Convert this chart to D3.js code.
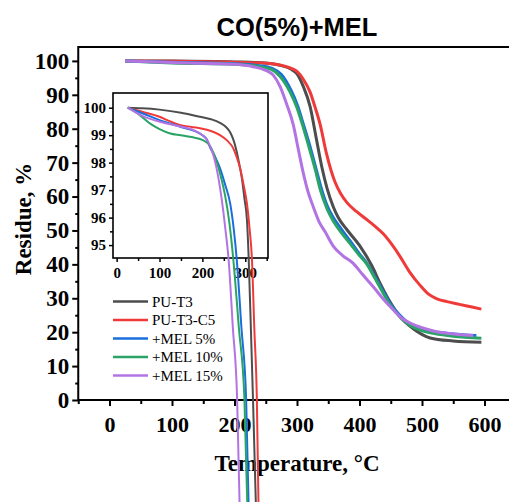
<!DOCTYPE html>
<html>
<head>
<meta charset="utf-8">
<script src="https://cdn.jsdelivr.net/npm/d3@7"></script>
<style>
  html, body { margin: 0; padding: 0; background: #fff; overflow: hidden; }
</style>
</head>
<body>
<div id="chart"></div>
<script>
// --------------------------------------------------------
// DATA
// --------------------------------------------------------
const seriesNames = ["PU-T3", "PU-T3-C5", "+MEL 5%", "+MEL 10%", "+MEL 15%"];
const seriesColors = ["#4d4d4d", "#f03a3a", "#1a6fdc", "#2aa366", "#b374e3"];

// main TGA curves: temperature (°C) and residue (%)
const mainT3 = [[25,100],[100,99.95],[200,99.7],[250,99.4],[275,98.6],[290,97.6],[300,96.2],[310,92.5],[321,86.5],[331,77],[340,68.5],[348,62.5],[358,57],[366,53.8],[380,50.2],[400,45.6],[420,39.5],[433,34.4],[450,28.6],[465,24.5],[486,21],[513,18.3],[550,17.4],[595,17]];
const mainC5 = [[25,100],[100,99.9],[200,99.6],[250,99.3],[273,98.8],[290,97.9],[300,96.9],[310,94.6],[321,90.8],[329,86.3],[337,81.3],[347,72.8],[355,67.4],[361,64.2],[370,60.8],[380,58.2],[395,55.6],[411,53.3],[425,51.2],[438,49],[452,45.8],[465,42.3],[480,37.8],[497,33.8],[510,31.3],[523,29.9],[540,29],[560,28.2],[580,27.4],[595,26.8]];
const mainMel5 = [[25,100],[100,99.6],[200,99.2],[240,98.6],[260,97.8],[275,96],[290,91.5],[301,86.8],[311,80.8],[322,74],[331,67.8],[338,63],[348,57.4],[358,53.8],[370,50.6],[385,46.9],[400,43.1],[411,40.5],[425,36.2],[438,32],[450,28.2],[465,24.9],[480,22.5],[497,21.1],[520,20.1],[550,19.5],[587,19]];
const mainMel10 = [[25,100],[100,99.4],[200,99],[240,98.3],[260,97.4],[273,95.4],[289,90.8],[300,86.2],[310,80.4],[321,73.4],[330,67.4],[337,62.2],[348,56.4],[358,52.8],[370,49.6],[385,46.1],[400,42.6],[411,40.3],[425,35.8],[438,31.5],[450,27.8],[465,24.5],[480,22.1],[497,20.6],[520,19.6],[550,18.8],[595,18.2]];
const mainMel15 = [[25,100],[100,99.5],[200,99],[230,98.3],[250,97.2],[262,95.8],[273,92.4],[283,87.5],[294,81.2],[302,74],[310,67],[318,61.2],[326,57],[335,52.7],[345,49.6],[358,45.4],[373,42.6],[390,40.3],[405,37],[422,33.4],[438,29.8],[454,26.6],[468,24.1],[481,22.7],[500,21.3],[520,20.3],[540,19.7],[582,19]];

// inset (zoom on the start of the decomposition)
const insetT3 = [[26,100],[60,99.98],[100,99.93],[150,99.82],[194,99.67],[220,99.58],[241,99.45],[255,99.3],[265,99.1],[273,98.8],[280,98.4],[286,97.95],[292,97.44],[298,96.7],[304,95.9],[308,94.5],[313,92],[318,89.4],[325,85.4]];
const insetC5 = [[26,100],[60,99.85],[100,99.67],[125,99.5],[147,99.37],[175,99.3],[194,99.25],[220,99.15],[241,99],[258,98.8],[272,98.52],[280,98.2],[288,97.8],[296,97.2],[304,96.5],[310,95.6],[315.5,94.5],[321,92],[327,89.4],[331,85.4]];
const insetMel5 = [[26,100],[60,99.8],[100,99.55],[150,99.3],[200,99],[210,98.85],[218,98.55],[230,98.2],[241,97.8],[253,97.2],[265,96.5],[273,95.6],[280,94.5],[291,92],[302,89.4],[308,85.4]];
const insetMel10 = [[26,100],[54,99.73],[80,99.4],[100,99.22],[125,99.06],[150,99],[175,98.93],[200,98.83],[218,98.6],[226,98.35],[233,98.04],[243,97.5],[253,96.8],[263,95.8],[272,94.5],[285,92],[298,89.4],[305,85.4]];
const insetMel15 = [[26,100],[60,99.7],[100,99.49],[150,99.31],[180,99.18],[200,99],[210,98.85],[218,98.6],[226,98.25],[233,97.8],[241,97.1],[249,96.2],[255,95.4],[261,94.5],[271,92],[281,89.4],[287,85.4]];

const mainSeries = [mainT3, mainC5, mainMel5, mainMel10, mainMel15];
const insetSeries = [insetT3, insetC5, insetMel5, insetMel10, insetMel15];

const xTicks = [0, 100, 200, 300, 400, 500, 600];
const yTicks = [0, 10, 20, 30, 40, 50, 60, 70, 80, 90, 100];
const insetXTicks = [0, 100, 200, 300];
const insetYTicks = [95, 96, 97, 98, 99, 100];

// --------------------------------------------------------
// LAYOUT
// --------------------------------------------------------
const width = 509;
const height = 502;
const serif = "'Liberation Serif', 'Times New Roman', serif";
const sans = "'Liberation Sans', Arial, sans-serif";

const svg = d3
  .select("#chart")
  .append("svg")
  .attr("width", width)
  .attr("height", height)
  .attr("viewBox", [0, 0, width, height]);

const x = d3.scaleLinear().domain([-50, 650]).range([78.25, 515.75]);
const y = d3.scaleLinear().domain([0, 104.1]).range([400, 47]);

const line = d3
  .line()
  .x((d) => x(d[0]))
  .y((d) => y(d[1]))
  .curve(d3.curveMonotoneX);

// title
svg
  .append("text")
  .attr("x", 297)
  .attr("y", 36)
  .attr("text-anchor", "middle")
  .attr("font-family", sans)
  .attr("font-weight", "bold")
  .attr("font-size", 25.5)
  .text("CO(5%)+MEL");

// main curves
svg
  .append("g")
  .attr("fill", "none")
  .attr("stroke-width", 3)
  .attr("stroke-linejoin", "round")
  .selectAll("path")
  .data(mainSeries)
  .join("path")
  .attr("stroke", (d, i) => seriesColors[i])
  .attr("d", line);

// frame
svg
  .append("rect")
  .attr("x", x(-50))
  .attr("y", y(104.1))
  .attr("width", x(650) - x(-50))
  .attr("height", y(0) - y(104.1))
  .attr("fill", "none")
  .attr("stroke", "#000")
  .attr("stroke-width", 2);

// axes
function styleAxis(g, size) {
  g.select(".domain").remove();
  g.selectAll("line").attr("stroke", "#000").attr("stroke-width", 2);
  g.selectAll("text")
    .attr("font-family", serif)
    .attr("font-weight", "bold")
    .attr("font-size", size)
    .attr("fill", "#000");
}

svg
  .append("g")
  .attr("transform", `translate(0,${y(0)})`)
  .call(d3.axisBottom(x).tickValues(xTicks).tickSize(6).tickPadding(10))
  .call((g) => styleAxis(g, 22));

svg
  .append("g")
  .attr("transform", `translate(0,${y(0)})`)
  .call(d3.axisBottom(x).tickValues(d3.range(-50, 651, 100)).tickSize(4).tickFormat(""))
  .call((g) => styleAxis(g, 22));

svg
  .append("g")
  .attr("transform", `translate(${x(-50)},0)`)
  .call(d3.axisLeft(y).tickValues(yTicks).tickSize(6).tickPadding(3))
  .call((g) => styleAxis(g, 23));

svg
  .append("g")
  .attr("transform", `translate(${x(-50)},0)`)
  .call(d3.axisLeft(y).tickValues(d3.range(5, 100, 10)).tickSize(3).tickFormat(""))
  .call((g) => styleAxis(g, 23));

// axis titles
svg
  .append("text")
  .attr("x", 297)
  .attr("y", 471)
  .attr("text-anchor", "middle")
  .attr("font-family", serif)
  .attr("font-weight", "bold")
  .attr("font-size", 23)
  .text("Temperature, °C");

svg
  .append("text")
  .attr("transform", "translate(31,219) rotate(-90)")
  .attr("text-anchor", "middle")
  .attr("font-family", serif)
  .attr("font-weight", "bold")
  .attr("font-size", 23)
  .text("Residue, %");

// --------------------------------------------------------
// INSET
// --------------------------------------------------------
const ix = d3.scaleLinear().domain([-8.5, 353]).range([113, 268]);
const iy = d3.scaleLinear().domain([94.53, 100.535]).range([258, 93]);

const insetLine = d3
  .line()
  .x((d) => ix(d[0]))
  .y((d) => iy(d[1]))
  .curve(d3.curveMonotoneX);

svg
  .append("rect")
  .attr("x", ix(-8.5))
  .attr("y", iy(100.535))
  .attr("width", ix(353) - ix(-8.5))
  .attr("height", iy(94.53) - iy(100.535))
  .attr("fill", "#fff")
  .attr("stroke", "#000")
  .attr("stroke-width", 1.6);

function styleInset(g) {
  g.select(".domain").remove();
  g.selectAll("line").attr("stroke", "#000").attr("stroke-width", 1.5);
  g.selectAll("text")
    .attr("font-family", serif)
    .attr("font-weight", "bold")
    .attr("font-size", 15)
    .attr("fill", "#000");
}

svg
  .append("g")
  .attr("transform", `translate(0,${iy(94.53)})`)
  .call(d3.axisBottom(ix).tickValues(insetXTicks).tickSize(4).tickPadding(5).tickFormat(d3.format("d")))
  .call(styleInset);

svg
  .append("g")
  .attr("transform", `translate(0,${iy(94.53)})`)
  .call(d3.axisBottom(ix).tickValues([50, 150, 250, 350]).tickSize(3).tickFormat(""))
  .call(styleInset);

svg
  .append("g")
  .attr("transform", `translate(${ix(-8.5)},0)`)
  .call(d3.axisLeft(iy).tickValues(insetYTicks).tickSize(4).tickPadding(3).tickFormat(d3.format("d")))
  .call(styleInset);

svg
  .append("g")
  .attr("transform", `translate(${ix(-8.5)},0)`)
  .call(d3.axisLeft(iy).tickValues([95.5, 96.5, 97.5, 98.5, 99.5]).tickSize(3).tickFormat(""))
  .call(styleInset);

// inset curves are not clipped: they run down past the frame
svg
  .append("g")
  .attr("fill", "none")
  .attr("stroke-width", 2)
  .selectAll("path")
  .data(insetSeries)
  .join("path")
  .attr("stroke", (d, i) => seriesColors[i])
  .attr("d", insetLine);

// legend
const legend = svg
  .append("g")
  .selectAll("g")
  .data(seriesNames)
  .join("g")
  .attr("transform", (d, i) => `translate(113,${301.5 + i * 18.5})`);

legend
  .append("line")
  .attr("x1", 0)
  .attr("x2", 35)
  .attr("stroke", (d, i) => seriesColors[i])
  .attr("stroke-width", 2.5);

legend
  .append("text")
  .attr("x", 39)
  .attr("y", 5)
  .attr("font-family", serif)
  .attr("font-size", 15)
  .text((d) => d);
</script>
</body>
</html>
